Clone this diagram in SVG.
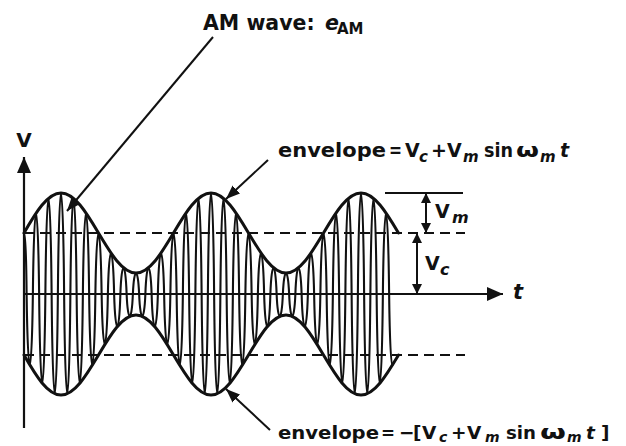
<svg xmlns="http://www.w3.org/2000/svg" width="626" height="446" viewBox="0 0 626 446">
<defs>
<style>
.ln{fill:none;stroke:#111;stroke-linecap:round;stroke-linejoin:round}
.mk{fill:none;stroke:#111;stroke-linecap:butt}
.ax{stroke-width:2.2}
.env{stroke-width:3}
.car{stroke-width:2.1}
.dm{stroke-width:2}
.cl{stroke-width:2}
.dash{fill:none;stroke:#111;stroke-width:2;stroke-dasharray:10 6}
.txt{font-family:"DejaVu Sans","Liberation Sans",sans-serif;font-weight:bold;fill:#111}
.it{font-style:italic}
</style>
<marker id="ah" viewBox="0 0 10 10" refX="10" refY="5" markerWidth="10" markerHeight="10" markerUnits="userSpaceOnUse" orient="auto-start-reverse"><path d="M0,0 L10,5 L0,10 z" fill="#111"/></marker>
<marker id="ahL" viewBox="0 0 14 11" refX="14" refY="5.5" markerWidth="14" markerHeight="11" markerUnits="userSpaceOnUse" orient="auto"><path d="M0,0 L14,5.5 L0,11 z" fill="#111"/></marker>
<marker id="axh" viewBox="0 0 16 14" refX="16" refY="7" markerWidth="16" markerHeight="14" markerUnits="userSpaceOnUse" orient="auto"><path d="M0,0 L16,7 L0,14 z" fill="#111"/></marker>
</defs>
<rect width="626" height="446" fill="#fff"/>

<g id="axes">
<line class="mk ax" x1="24" y1="428" x2="24" y2="157" marker-end="url(#axh)"/>
<line class="mk ax" x1="24" y1="294" x2="503" y2="294" marker-end="url(#axh)"/>
<text class="txt" x="24" y="147" font-size="20" text-anchor="middle">V</text>
<text class="txt it" x="513" y="299" font-size="21">t</text>
</g>

<g id="levels">
<line class="dash" x1="24" y1="233" x2="465" y2="233"/>
<line class="dash" x1="24" y1="355" x2="465" y2="355"/>
</g>

<g id="carrier">
<path class="ln car" d="M24,234 C25.2,236 26.3,260 26.625,294
c1.2,95.1 5.05,95.1 6.25,0 c1.2,-108 5.05,-108 6.25,0 c1.2,119 5.05,119 6.25,0 c1.2,-127.5 5.05,-127.5 6.25,0
c1.2,132.9 5.05,132.9 6.25,0 c1.2,-134.7 5.05,-134.7 6.25,0 c1.2,132.9 5.05,132.9 6.25,0 c1.2,-127.5 5.05,-127.5 6.25,0
c1.2,119 5.05,119 6.25,0 c1.2,-108 5.05,-108 6.25,0 c1.2,95.1 5.05,95.1 6.25,0 c1.2,-81.3 5.05,-81.3 6.25,0
c1.2,67.5 5.05,67.5 6.25,0 c1.2,-54.7 5.05,-54.7 6.25,0 c1.2,43.6 5.05,43.6 6.25,0 c1.2,-35.1 5.05,-35.1 6.25,0
c1.2,29.8 5.05,29.8 6.25,0 c1.2,-28 5.05,-28 6.25,0 c1.2,29.8 5.05,29.8 6.25,0 c1.2,-35.1 5.05,-35.1 6.25,0
c1.2,43.6 5.05,43.6 6.25,0 c1.2,-54.7 5.05,-54.7 6.25,0 c1.2,67.5 5.05,67.5 6.25,0 c1.2,-81.3 5.05,-81.3 6.25,0
c1.2,95.1 5.05,95.1 6.25,0 c1.2,-108 5.05,-108 6.25,0 c1.2,119 5.05,119 6.25,0 c1.2,-127.5 5.05,-127.5 6.25,0
c1.2,132.9 5.05,132.9 6.25,0 c1.2,-134.7 5.05,-134.7 6.25,0 c1.2,132.9 5.05,132.9 6.25,0 c1.2,-127.5 5.05,-127.5 6.25,0
c1.2,119 5.05,119 6.25,0 c1.2,-108 5.05,-108 6.25,0 c1.2,95.1 5.05,95.1 6.25,0 c1.2,-81.3 5.05,-81.3 6.25,0
c1.2,67.5 5.05,67.5 6.25,0 c1.2,-54.7 5.05,-54.7 6.25,0 c1.2,43.6 5.05,43.6 6.25,0 c1.2,-35.1 5.05,-35.1 6.25,0
c1.2,29.8 5.05,29.8 6.25,0 c1.2,-28 5.05,-28 6.25,0 c1.2,29.8 5.05,29.8 6.25,0 c1.2,-35.1 5.05,-35.1 6.25,0
c1.2,43.6 5.05,43.6 6.25,0 c1.2,-54.7 5.05,-54.7 6.25,0 c1.2,67.5 5.05,67.5 6.25,0 c1.2,-81.3 5.05,-81.3 6.25,0
c1.2,95.1 5.05,95.1 6.25,0 c1.2,-108 5.05,-108 6.25,0 c1.2,119 5.05,119 6.25,0 c1.2,-127.5 5.05,-127.5 6.25,0
c1.2,132.9 5.05,132.9 6.25,0 c1.2,-134.7 5.05,-134.7 6.25,0 c1.2,132.9 5.05,132.9 6.25,0 c1.2,-127.5 5.05,-127.5 6.25,0
c1.2,119 5.05,119 6.25,0 c1.2,-108 5.05,-108 6.25,0
c0.6,47.55 1.86,71.3 3.125,71.3"/>
</g>

<g id="envelope-top">
<path class="ln env" d="M24,233 c11.8,-20.49 23.5,-40 37,-40
c13.57,0 25.27,19.51 37.5,40 c12.23,20.49 23.93,40 37.5,40
c13.57,0 25.27,-19.51 37.5,-40 c12.23,-20.49 23.93,-40 37.5,-40
c13.57,0 25.27,19.51 37.5,40 c12.23,20.49 23.93,40 37.5,40
c13.57,0 25.27,-19.51 37.5,-40 c12.23,-20.49 23.93,-40 37.5,-40
c13.57,0 25.27,19.51 37.5,40"/>
</g>

<g id="envelope-bottom">
<path class="ln env" d="M24,355 c11.8,20.49 23.5,40 37,40
c13.57,0 25.27,-19.51 37.5,-40 c12.23,-20.49 23.93,-40 37.5,-40
c13.57,0 25.27,19.51 37.5,40 c12.23,20.49 23.93,40 37.5,40
c13.57,0 25.27,-19.51 37.5,-40 c12.23,-20.49 23.93,-40 37.5,-40
c13.57,0 25.27,19.51 37.5,40 c12.23,20.49 23.93,40 37.5,40
c13.57,0 25.27,-19.51 37.5,-40"/>
</g>

<g id="dim-Vm">
<line class="mk ax" x1="385" y1="193" x2="463" y2="193"/>
<line class="mk dm" x1="426" y1="193" x2="426" y2="233" marker-start="url(#ah)" marker-end="url(#ah)"/>
<text class="txt" x="435" y="218" font-size="19">V<tspan class="it" x="452" y="223" font-size="16">m</tspan></text>
</g>

<g id="dim-Vc">
<line class="mk dm" x1="417" y1="233" x2="417" y2="294" marker-start="url(#ah)" marker-end="url(#ah)"/>
<text class="txt" x="425" y="270" font-size="19">V<tspan class="it" x="440" y="275" font-size="16">c</tspan></text>
</g>

<g id="label-am">
<text class="txt" x="203" y="30" font-size="20.5">AM wave: <tspan class="it" x="325">e</tspan><tspan x="337" y="34" font-size="15">AM</tspan></text>
</g>

<g id="label-env-top">
<text class="txt" x="278" y="157" font-size="19"><tspan textLength="108" lengthAdjust="spacingAndGlyphs">envelope</tspan><tspan x="389" textLength="13" lengthAdjust="spacingAndGlyphs">=</tspan><tspan x="405">V</tspan><tspan class="it" x="419" y="162" font-size="15">c</tspan><tspan x="431" y="157">+</tspan><tspan x="447">V</tspan><tspan class="it" x="463" y="162" font-size="15">m</tspan><tspan x="484" y="157" textLength="29" lengthAdjust="spacingAndGlyphs">sin</tspan><tspan x="516" textLength="23" lengthAdjust="spacingAndGlyphs">ω</tspan><tspan class="it" x="540" y="162" font-size="15">m</tspan><tspan class="it" x="560" y="157">t</tspan></text>
</g>

<g id="label-env-bottom">
<text class="txt" x="278" y="439" font-size="18.5"><tspan textLength="101" lengthAdjust="spacingAndGlyphs">envelope</tspan><tspan x="381" textLength="14" lengthAdjust="spacingAndGlyphs">=</tspan><tspan x="399">−</tspan><tspan x="413">[</tspan><tspan x="422">V</tspan><tspan class="it" x="439" y="442" font-size="14">c</tspan><tspan x="451" y="439">+</tspan><tspan x="467">V</tspan><tspan class="it" x="485" y="442" font-size="14">m</tspan><tspan x="506" y="439" textLength="30" lengthAdjust="spacingAndGlyphs">sin</tspan><tspan x="540" textLength="26" lengthAdjust="spacingAndGlyphs">ω</tspan><tspan class="it" x="567" y="442" font-size="14">m</tspan><tspan class="it" x="586" y="439">t</tspan><tspan x="601">]</tspan></text>
</g>

<g id="connectors">
<line class="mk cl" x1="213" y1="37" x2="67" y2="211" marker-end="url(#ahL)"/>
<line class="mk cl" x1="268" y1="160" x2="226" y2="199" marker-end="url(#ahL)"/>
<line class="mk cl" x1="270" y1="430" x2="226" y2="389" marker-end="url(#ahL)"/>
</g>
</svg>
